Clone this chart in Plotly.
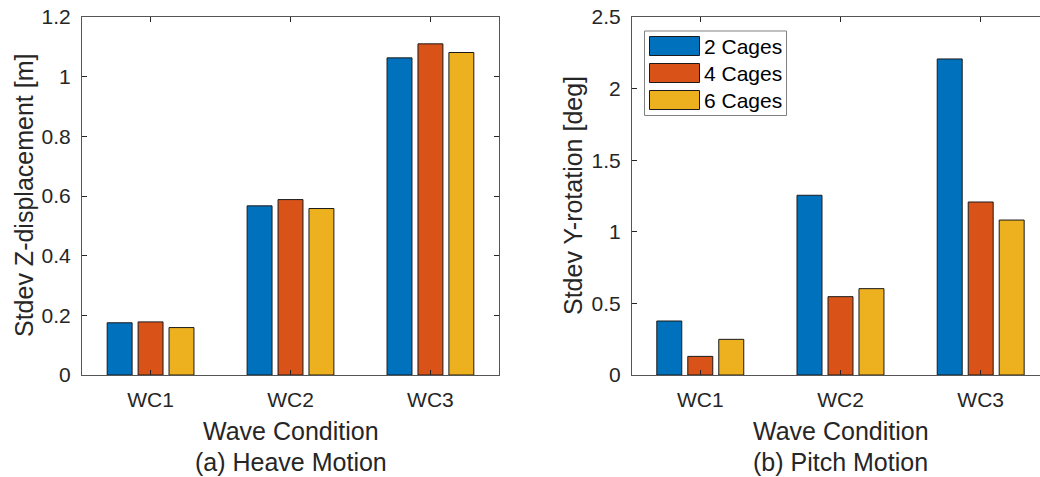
import plotly.graph_objects as go

# Wave conditions and cage configurations
conditions = ["WC1", "WC2", "WC3"]
series_names = ["2 Cages", "4 Cages", "6 Cages"]

# Standard deviation of heave (Z-displacement) [m]
heave_2_cages = [0.175, 0.567, 1.063]
heave_4_cages = [0.178, 0.588, 1.110]
heave_6_cages = [0.159, 0.558, 1.081]

# Standard deviation of pitch (Y-rotation) [deg]
pitch_2_cages = [0.377, 1.255, 2.207]
pitch_4_cages = [0.130, 0.547, 1.208]
pitch_6_cages = [0.249, 0.603, 1.082]

colors = ["#0072BD", "#D95319", "#EDB120"]

W, H = 1040, 477
FONT = "Liberation Sans, Arial, Helvetica, sans-serif"
TEXT = "#262626"
AXIS = "#555555"


def fx(p):
    return p / W


def fy(p):
    return 1 - p / H


fig = go.Figure()

heave = [heave_2_cages, heave_4_cages, heave_6_cages]
pitch = [pitch_2_cages, pitch_4_cages, pitch_6_cages]

for name, vals, c in zip(series_names, heave, colors):
    fig.add_trace(go.Bar(
        x=conditions, y=vals, name=name, xaxis="x", yaxis="y",
        marker=dict(color=c, line=dict(color="#1a1a1a", width=1)),
        showlegend=False,
    ))
for name, vals, c in zip(series_names, pitch, colors):
    fig.add_trace(go.Bar(
        x=conditions, y=vals, name=name, xaxis="x2", yaxis="y2",
        marker=dict(color=c, line=dict(color="#1a1a1a", width=1)),
        showlegend=False,
    ))

axis_style = dict(
    showline=True, linecolor=AXIS, linewidth=1,
    ticks="inside", ticklen=5, tickcolor=TEXT, tickwidth=1,
    showgrid=False, zeroline=False, automargin=False,
    tickfont=dict(family=FONT, size=21, color=TEXT),
    ticklabelstandoff=6,
)

ydom = [fy(375), fy(17)]

fig.update_layout(
    template="none",
    width=W, height=H,
    margin=dict(l=0, r=0, t=0, b=0, pad=0, autoexpand=False),
    paper_bgcolor="white", plot_bgcolor="white",
    barmode="group", bargap=0.337, bargroupgap=0.194,
    font=dict(family=FONT, color=TEXT),
    xaxis=dict(domain=[fx(82), fx(499)], range=[-0.49, 2.49], anchor="y",
               mirror="ticks", type="category", **axis_style),
    yaxis=dict(domain=ydom, range=[0, 1.2], dtick=0.2, anchor="x",
               mirror="ticks", **axis_style),
    xaxis2=dict(domain=[fx(632), 1.0], range=[-0.487, 2.423], anchor="y2",
                mirror="ticks", type="category", **axis_style),
    yaxis2=dict(domain=ydom, range=[0, 2.5], dtick=0.5, anchor="x2",
                mirror=False, **axis_style),
)

annotations = []
label_font = dict(family=FONT, size=25, color=TEXT)

# Axis titles and panel captions
for cx, caption in [(290.5, "(a) Heave Motion"), (840.5, "(b) Pitch Motion")]:
    annotations.append(dict(text="Wave Condition", x=fx(cx), y=fy(431),
                            xref="paper", yref="paper", showarrow=False,
                            xanchor="center", yanchor="middle", font=label_font))
    annotations.append(dict(text=caption, x=fx(cx), y=0, borderpad=0,
                            xref="paper", yref="paper", showarrow=False,
                            xanchor="center", yanchor="bottom", font=label_font))

for cx, title in [(24, "Stdev Z-displacement [m]"), (573, "Stdev Y-rotation [deg]")]:
    annotations.append(dict(text=title, x=fx(cx), y=fy(196), textangle=-90,
                            xref="paper", yref="paper", showarrow=False,
                            xanchor="center", yanchor="middle", font=label_font))

# Legend for the pitch panel
shapes = [dict(type="rect", xref="paper", yref="paper",
               x0=fx(644.5), x1=fx(786.5), y0=fy(115.5), y1=fy(31),
               line=dict(color="#808080", width=1), fillcolor="white", layer="above")]
row_top = [36.5, 63.5, 90.5]
for name, c, top in zip(series_names, colors, row_top):
    shapes.append(dict(type="rect", xref="paper", yref="paper",
                       x0=fx(649.5), x1=fx(699.5), y0=fy(top + 19), y1=fy(top),
                       line=dict(color="#1a1a1a", width=1), fillcolor=c, layer="above"))
    annotations.append(dict(text=name, x=fx(702), y=fy(top + 9.5),
                            xref="paper", yref="paper", showarrow=False,
                            xanchor="left", yanchor="middle",
                            font=dict(family=FONT, size=21, color="#000000")))

fig.update_layout(annotations=annotations, shapes=shapes)

fig.write_html("out.html")
